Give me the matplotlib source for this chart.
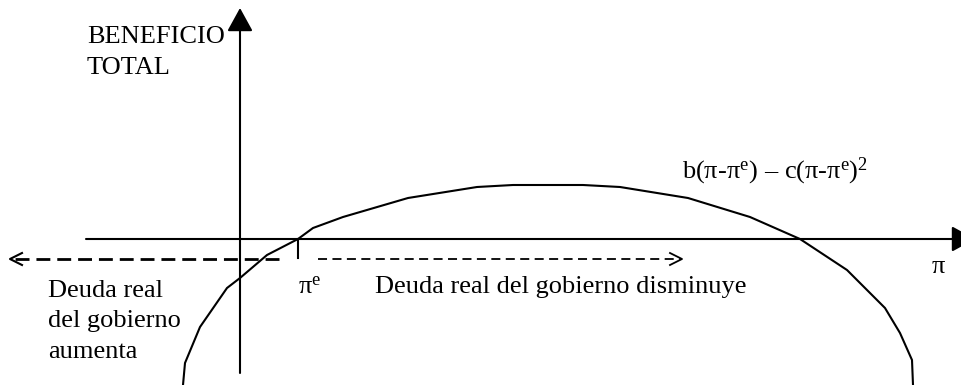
import matplotlib.pyplot as plt

plt.rcParams['font.family'] = ['Liberation Serif', 'DejaVu Serif']
plt.rcParams['mathtext.fontset'] = 'custom'
plt.rcParams['mathtext.rm'] = 'Liberation Serif'
plt.rcParams['mathtext.it'] = 'Liberation Serif'
plt.rcParams['mathtext.default'] = 'regular'

# total benefit curve (pi on x, benefit on y; origin where the axes cross)
pi_vals = [-57, -55, -40, -13, 0, 27, 58, 73, 103, 168, 237, 273, 343, 380,
           448, 510, 560, 607, 645, 660, 672, 673]
benefit = [-146, -124, -88, -49, -39, -16, 0, 11, 22, 41, 52, 54, 54, 52,
           41, 22, 0, -31, -69, -94, -121, -146]

pi_e = 58
debt_y = -20
left_arrow = (39, -230)
right_arrow = (78, 442)
left_lines = ['Deuda real', 'del gobierno', 'aumenta']

fig = plt.figure(figsize=(9.62, 3.85), dpi=100)
ax = fig.add_axes([0, 0, 1, 1])
ax.set_xlim(-240, 722)
ax.set_ylim(-146, 239)
ax.axis('off')

fs = 19

# axes with filled arrowheads
head = dict(arrowstyle='-|>,head_length=0.6,head_width=0.33', mutation_scale=24,
            color='k', lw=1.5, shrinkA=0, shrinkB=0)
ax.annotate('', xy=(735, 0), xytext=(-154, 0), arrowprops=head, annotation_clip=False)
ax.annotate('', xy=(0, 231), xytext=(0, -134), arrowprops=head, annotation_clip=False)

ax.plot(pi_vals, benefit, color='k', lw=1.5, solid_joinstyle='miter')

# pi^e tick
ax.plot([pi_e, pi_e], [0, debt_y + 1], color='k', lw=1.5)

# dashed arrows for the real government debt
ax.plot(left_arrow, [debt_y, debt_y], color='k', lw=2, dashes=(5, 2.5))
x0 = left_arrow[1]
ax.plot([x0 + 12, x0, x0 + 12], [debt_y + 6, debt_y, debt_y - 6], color='k', lw=1.5)
ax.plot(right_arrow, [debt_y, debt_y], color='k', lw=1.3, dashes=(5, 3))
x1 = right_arrow[1]
ax.plot([x1 - 12, x1, x1 - 12], [debt_y + 6, debt_y, debt_y - 6], color='k', lw=1.3)

ax.text(-153, 196, 'BENEFICIO', fontsize=fs, va='baseline')
ax.text(-153, 165, 'TOTAL', fontsize=fs, va='baseline')
ax.text(442, 61, r'$\mathregular{b(\pi{\text{-}}\pi^e)\ \endash\ c(\pi{\text{-}}\pi^e)^2}$',
        fontsize=fs, va='baseline')
ax.text(pi_e, -54, r'$\mathregular{\pi^e}$', fontsize=fs, va='baseline')
ax.text(135, -54, 'Deuda real del gobierno disminuye', fontsize=fs, va='baseline')
ax.text(698, -34, 'π', fontsize=fs, va='baseline', ha='center')
for i, line in enumerate(left_lines):
    ax.text(-192, -58 - 30.5 * i, line, fontsize=fs, va='baseline')

plt.savefig('out.png', dpi=100)
